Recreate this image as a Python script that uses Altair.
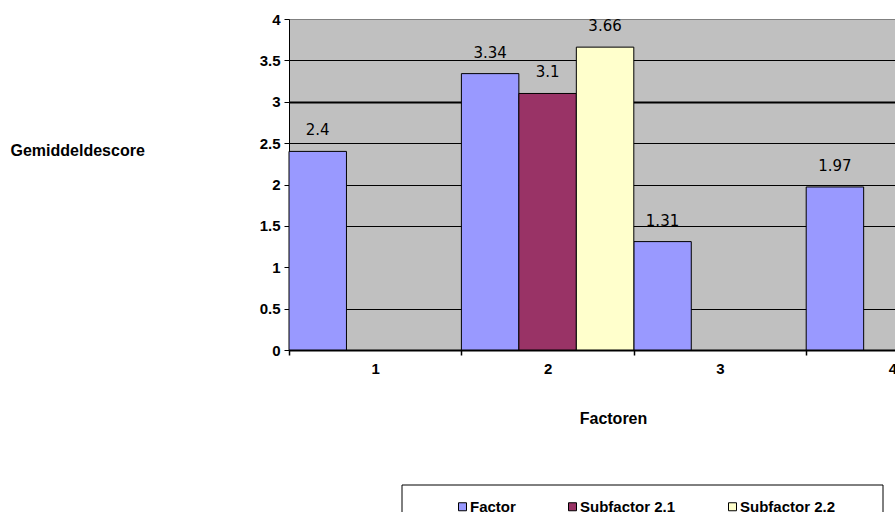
import altair as alt
import pandas as pd

# Series and their colours
series_names = ["Factor", "Subfactor 2.1", "Subfactor 2.2"]
series_colors = ["#9999FF", "#993366", "#FFFFCC"]

# Mean scores per factor group
factor_groups = [1, 2, 3, 4]
factor_scores = [2.4, 3.34, 1.31, 1.97]

sub21_groups = [2]
sub21_scores = [3.1]

sub22_groups = [2]
sub22_scores = [3.66]

x_tick_labels = [1, 2, 3, 4]
y_ticks = [0, 0.5, 1, 1.5, 2, 2.5, 3, 3.5, 4]

rows = []
for name, groups, scores in [
    ("Factor", factor_groups, factor_scores),
    ("Subfactor 2.1", sub21_groups, sub21_scores),
    ("Subfactor 2.2", sub22_groups, sub22_scores),
]:
    for g, v in zip(groups, scores):
        rows.append({"series": name, "group": g,
                     "slot": series_names.index(name), "value": v})
df = pd.DataFrame(rows)

# Plot area: 606 px wide showing 172.4 px per factor group
PLOT_W, PLOT_H = 606, 331
GROUP_PX = 172.4
X_MAX = 0.5 + PLOT_W / GROUP_PX

LABEL_FONT = "Liberation Sans"
VALUE_FONT = "DejaVu Sans"

x_scale = alt.Scale(domain=[0.5, X_MAX], nice=False, zero=False)
y_scale = alt.Scale(domain=[0, 4], nice=False)

x_axis = alt.Axis(
    values=[0.5] + [v for t in x_tick_labels for v in (t, t + 0.5)][:-1],
    labelExpr="datum.value % 1 === 0 ? format(datum.value, 'd') : ''",
    tickOpacity={"condition": {"test": "datum.value % 1 !== 0", "value": 1}, "value": 0},
    grid=False,
    domainColor="black", domainWidth=2,
    tickColor="black", tickWidth=1.5, tickSize=5,
    labelFont=LABEL_FONT, labelFontWeight="bold", labelFontSize=15,
    labelColor="black", labelPadding=6, labelAngle=0,
    title="Factoren",
    titleFont=LABEL_FONT, titleFontWeight="bold", titleFontSize=16, titleColor="black",
    titleX=324, titleY=68, titleAlign="center", titleBaseline="middle",
)

y_axis = alt.Axis(
    values=y_ticks,
    labelExpr="'' + datum.value",
    grid=True,
    gridColor={"condition": {"test": "datum.value === 4", "value": "#808080"}, "value": "black"},
    gridWidth={"condition": {"test": "datum.value === 3", "value": 2}, "value": 1},
    gridOpacity={"condition": {"test": "datum.value === 1 || datum.value === 0", "value": 0}, "value": 1},
    domainColor="black", domainWidth=1,
    tickColor="black", tickWidth=1, tickSize=5,
    labelFont=LABEL_FONT, labelFontWeight="bold", labelFontSize=15,
    labelColor="black", labelPadding=4,
    title="Gemiddeldescore",
    titleFont=LABEL_FONT, titleFontWeight="bold", titleFontSize=16, titleColor="black",
    titleAngle=0, titleX=-279, titleY=131, titleAlign="left", titleBaseline="middle",
)

base = alt.Chart(df).transform_calculate(
    x0="datum.group - 0.5 + datum.slot / 3",
    x1="datum.group - 0.5 + (datum.slot + 1) / 3",
    xc="datum.group - 0.5 + (datum.slot + 0.5) / 3",
    label="'' + datum.value",
)

bars = base.mark_rect(stroke="black", strokeWidth=1).encode(
    x=alt.X("x0:Q", scale=x_scale, axis=x_axis),
    x2="x1:Q",
    y=alt.Y("value:Q", scale=y_scale, axis=y_axis),
    y2=alt.datum(0),
    color=alt.Color(
        "series:N",
        scale=alt.Scale(domain=series_names, range=series_colors),
        legend=alt.Legend(
            title=None, orient="none", legendX=166, legendY=480,
            direction="horizontal", columnPadding=49, padding=0,
            symbolType="square", symbolSize=64,
            symbolStrokeColor="black", symbolStrokeWidth=1, symbolOpacity=1,
            labelFont=LABEL_FONT, labelFontWeight="bold", labelFontSize=15,
            labelColor="black", labelOffset=0,
        ),
    ),
)

labels = base.mark_text(
    font=VALUE_FONT, fontSize=15, color="black",
    baseline="alphabetic", align="center", dy=-16,
).encode(
    x=alt.X("xc:Q", scale=x_scale, axis=x_axis),
    y=alt.Y("value:Q", scale=y_scale, axis=y_axis),
    text="label:N",
)

# Frame drawn around the legend entries
legend_frame = alt.Chart(pd.DataFrame({"k": [0]})).mark_rect(
    fillOpacity=0, stroke="black", strokeWidth=1
).encode(
    x=alt.value(113), x2=alt.value(594),
    y=alt.value(466), y2=alt.value(540),
)

chart = alt.layer(bars, labels, legend_frame).properties(
    width=PLOT_W,
    height=PLOT_H,
    padding={"left": 289, "top": 19, "right": 0, "bottom": 162},
    autosize=alt.AutoSizeParams(type="none"),
    background="white",
).configure_view(
    fill="#C0C0C0", stroke=None
)

chart.save("out.html", embed_options={"renderer": "svg", "actions": False})
